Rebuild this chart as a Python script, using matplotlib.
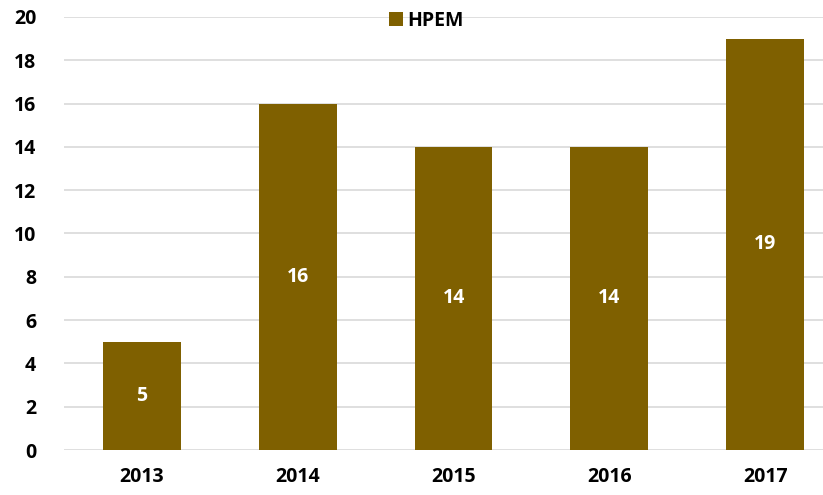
import matplotlib
matplotlib.use("Agg")
import matplotlib.pyplot as plt

years = ["2013", "2014", "2015", "2016", "2017"]
hpem = [5, 16, 14, 14, 19]
yticks = [0, 2, 4, 6, 8, 10, 12, 14, 16, 18, 20]

plt.rcParams['font.family'] = ['Open Sans', 'DejaVu Sans']
plt.rcParams['font.weight'] = 'bold'

fig = plt.figure(figsize=(8.23, 4.95), dpi=100)
ax = fig.add_axes([64/823, 45/495, (843-64)/823, (450-17)/495])

x = list(range(len(years)))
bars = ax.bar(x, hpem, width=0.5, color='#7F6000', label='HPEM', zorder=3)
for xi, v in zip(x, hpem):
    ax.text(xi, v/2, str(v), ha='center', va='center', color='white',
            fontsize=14, fontweight='bold', zorder=4)

ax.set_xlim(-0.5, 4.5)
ax.set_ylim(0, 20)
ax.set_yticks(yticks)
ax.set_xticks(x)
ax.set_xticklabels(years)
ax.yaxis.grid(True, color='#D9D9D9', linewidth=1.2, zorder=0)
ax.set_axisbelow(True)
for s in ax.spines.values():
    s.set_visible(False)
ax.tick_params(axis='both', length=0, labelsize=14, colors='#000000')
ax.tick_params(axis='y', pad=20)
ax.tick_params(axis='x', pad=12)
for lab in ax.get_xticklabels() + ax.get_yticklabels():
    lab.set_fontweight('bold')

leg = ax.legend(loc='upper center', bbox_to_anchor=(0.5 - 27/779, 1.055), frameon=False,
                handlelength=0.7, handleheight=0.7, handletextpad=0.25,
                prop={'weight': 'bold', 'size': 14})

fig.savefig('out.png', dpi=100)
